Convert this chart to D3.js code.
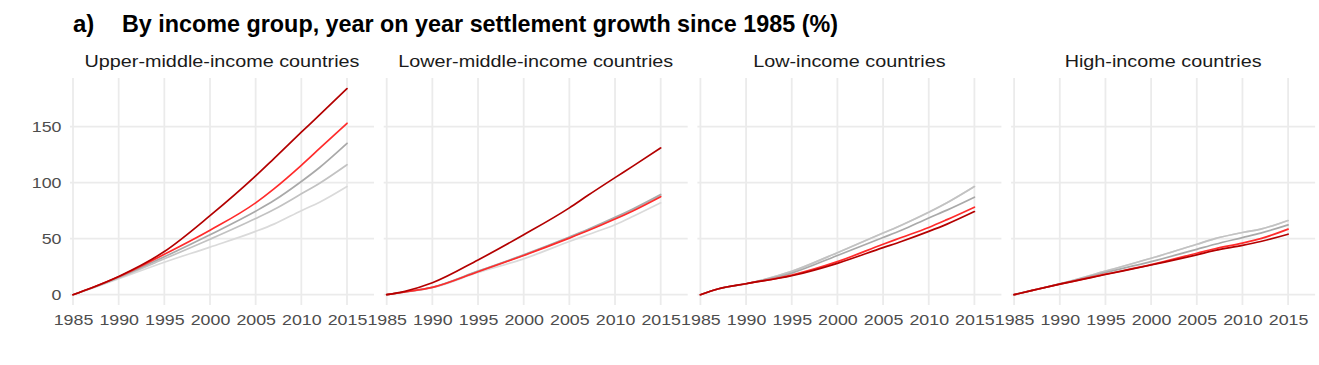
<!DOCTYPE html>
<html>
<head>
<meta charset="utf-8">
<script src="https://cdn.jsdelivr.net/npm/d3@7"></script>
<style>
  html, body { margin: 0; padding: 0; background: #ffffff; }
  svg { display: block; }
  text { font-family: "Liberation Sans", Arial, sans-serif; }
</style>
</head>
<body>
<svg id="chart" width="1319" height="365"></svg>
<script>
// ---------------- DATA ----------------
const titleLabel = "a)";
const titleText = "By income group, year on year settlement growth since 1985 (%)";
const panelNames = ["Upper-middle-income countries", "Lower-middle-income countries", "Low-income countries", "High-income countries"];
const years = [1985, 1987, 1990, 1995, 2000, 2005, 2007, 2010, 2012, 2015];
const xTickValues = [1985, 1990, 1995, 2000, 2005, 2010, 2015];
const yTickValues = [0, 50, 100, 150];
const seriesNames = ["Series 1", "Series 2", "Series 3", "Series 4", "Series 5"];
const seriesColors = ["#b30000", "#ff2b2b", "#a9a9a9", "#c2c2c2", "#dadada"];

// values per panel, one row per series (Series 1..5)
const upperMiddleValues = [
  [0, 6.0, 16.3, 38.5, 70.5, 106.0, 121.5, 145.0, 160.5, 184.0],
  [0, 6.0, 16.0, 36.0, 57.5, 82.0, 94.5, 115.5, 130.5, 153.0],
  [0, 5.8, 15.5, 33.8, 53.5, 74.5, 84.0, 101.0, 113.5, 135.0],
  [0, 5.7, 15.0, 32.0, 49.5, 68.0, 76.0, 90.0, 99.5, 116.0],
  [0, 5.5, 14.2, 29.0, 42.5, 56.5, 63.0, 75.0, 82.5, 96.5]
];
const lowerMiddleValues = [
  [0, 3.0, 10.6, 31.0, 53.5, 77.5, 88.5, 104.5, 115.0, 131.0],
  [0, 2.4, 6.5, 20.5, 35.0, 50.5, 57.0, 67.5, 75.0, 87.5],
  [0, 2.4, 6.6, 21.0, 35.6, 51.5, 58.2, 69.0, 76.8, 89.5],
  [0, 2.4, 6.5, 20.8, 35.3, 51.0, 57.6, 68.3, 76.0, 88.5],
  [0, 2.3, 6.2, 19.8, 32.0, 47.5, 53.5, 62.5, 70.0, 82.0]
];
const lowValues = [
  [0, 5.3, 9.8, 16.9, 28.0, 42.0, 47.5, 56.5, 63.0, 74.2],
  [0, 5.3, 9.8, 17.5, 29.5, 45.0, 51.0, 60.0, 67.0, 78.1],
  [0, 5.3, 9.8, 19.3, 35.0, 51.0, 57.5, 68.5, 75.5, 87.0],
  [0, 5.3, 9.8, 20.8, 37.5, 55.0, 62.0, 73.5, 82.0, 96.5],
  [0, 5.3, 9.8, 20.8, 37.5, 55.0, 62.0, 73.5, 82.0, 96.5]
];
const highValues = [
  [0, 3.8, 9.4, 18.0, 26.5, 35.6, 39.5, 44.0, 47.5, 54.0],
  [0, 3.8, 9.4, 18.3, 26.8, 37.0, 41.0, 46.0, 50.0, 58.5],
  [0, 3.9, 9.6, 19.8, 29.5, 40.5, 45.0, 51.0, 55.0, 62.3],
  [0, 3.9, 9.7, 21.0, 32.5, 45.0, 50.0, 55.5, 58.5, 66.2],
  [0, 3.9, 9.7, 21.0, 32.5, 45.0, 50.0, 55.5, 58.5, 66.2]
];
const panelValues = [upperMiddleValues, lowerMiddleValues, lowValues, highValues];

// ---------------- LAYOUT ----------------
const svg = d3.select("#chart");
const panelTop = 78, panelBottom = 305;
const panelStart = 70, panelStep = 313.7, panelWidth = 304;
const stretch = 1.22; // horizontal text stretch of the reference
const tickFont = 14.6;

const y = d3.scaleLinear().domain([-9.2, 193.4]).range([panelBottom, panelTop]);

// Title
svg.append("text")
  .attr("x", 73).attr("y", 32)
  .attr("font-size", 24).attr("font-weight", "bold").attr("fill", "#000")
  .text(titleLabel);
svg.append("text")
  .attr("x", 122).attr("y", 32)
  .attr("font-size", 24).attr("font-weight", "bold").attr("fill", "#000")
  .attr("textLength", 716).attr("lengthAdjust", "spacingAndGlyphs")
  .text(titleText);

const line = d3.line().curve(d3.curveMonotoneX);

panelNames.forEach((name, i) => {
  const ox = panelStart + i * panelStep;
  const x = d3.scaleLinear().domain([1985, 2015]).range([ox + 3, ox + 277]);
  const g = svg.append("g");

  // gridlines
  g.selectAll("line.h").data(yTickValues).enter().append("line")
    .attr("x1", ox).attr("x2", ox + panelWidth)
    .attr("y1", d => y(d)).attr("y2", d => y(d))
    .attr("stroke", "#ebebeb").attr("stroke-width", 1.8);
  g.selectAll("line.v").data(xTickValues).enter().append("line")
    .attr("x1", d => x(d)).attr("x2", d => x(d))
    .attr("y1", panelTop).attr("y2", panelBottom)
    .attr("stroke", "#ebebeb").attr("stroke-width", 1.8);

  // strip title
  svg.append("text")
    .attr("transform", `translate(${ox + panelWidth / 2},67) scale(1.2,1)`)
    .attr("text-anchor", "middle").attr("font-size", 16.5).attr("fill", "#1a1a1a")
    .text(name);

  // x axis
  const xa = svg.append("g").attr("transform", `translate(0,${panelBottom})`)
    .call(d3.axisBottom(x).tickValues(xTickValues).tickSize(0).tickFormat(d3.format("d")));
  xa.select(".domain").remove();
  xa.selectAll("text")
    .attr("y", 20.5).attr("dy", 0)
    .attr("transform", `scale(${stretch},1)`)
    .attr("font-size", tickFont).attr("fill", "#4d4d4d")
    .attr("font-family", "Liberation Sans, Arial, sans-serif");

  // y axis (first panel only)
  if (i === 0) {
    const ya = svg.append("g").attr("transform", `translate(${ox},0)`)
      .call(d3.axisLeft(y).tickValues(yTickValues).tickSize(0));
    ya.select(".domain").remove();
    ya.selectAll("text")
      .attr("x", -7).attr("dy", "0.36em")
      .attr("transform", `scale(${stretch},1)`)
      .attr("font-size", tickFont).attr("fill", "#4d4d4d")
      .attr("font-family", "Liberation Sans, Arial, sans-serif");
  }

  // lines: draw lightest first, darkest red on top
  const vals = panelValues[i];
  for (let s = seriesNames.length - 1; s >= 0; s--) {
    const pts = years.map((yr, k) => [x(yr), y(vals[s][k])]);
    g.append("path")
      .attr("d", line(pts))
      .attr("fill", "none")
      .attr("stroke", seriesColors[s])
      .attr("stroke-width", 1.7)
      .attr("stroke-linejoin", "round")
      .attr("stroke-linecap", "round");
  }
});
</script>
</body>
</html>
